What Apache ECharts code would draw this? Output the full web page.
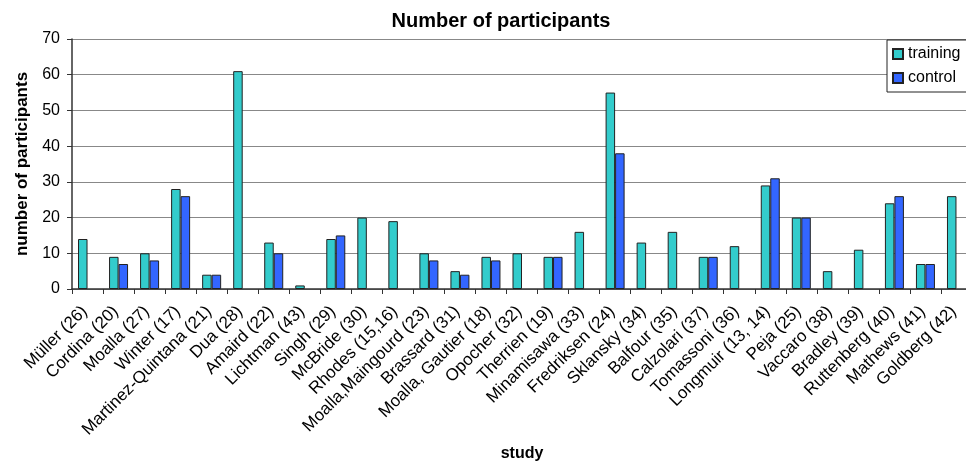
<!DOCTYPE html>
<html>
<head>
<meta charset="utf-8">
<script src="https://cdn.jsdelivr.net/npm/echarts@6/dist/echarts.min.js"></script>
<style>
  html, body { margin: 0; padding: 0; background: #fff; }
  #chart { width: 966px; height: 462px; }
</style>
</head>
<body>
<div id="chart"></div>
<script>
// Studies and group sizes (null = no control group reported)
const studies = [
  'Müller (26)', 'Cordina (20)', 'Moalla (27)', 'Winter (17)', 'Martinez-Quintana (21)',
  'Dua (28)', 'Amaird (22)', 'Lichtman (43)', 'Singh (29)', 'McBride (30)',
  'Rhodes (15,16)', 'Moalla,Maingourd (23)', 'Brassard (31)', 'Moalla, Gautier (18)',
  'Opocher (32)', 'Therrien (19)', 'Minamisawa (33)', 'Fredriksen (24)', 'Sklansky (34)',
  'Balfour (35)', 'Calzolari (37)', 'Tomassoni (36)', 'Longmuir (13, 14)', 'Peja (25)',
  'Vaccaro (38)', 'Bradley (39)', 'Ruttenberg (40)', 'Mathews (41)', 'Goldberg (42)'
];
const training = [14, 9, 10, 28, 4, 61, 13, 1, 14, 20, 19, 10, 5, 9, 10, 9, 16, 55, 13, 16, 9, 12, 29, 20, 5, 11, 24, 7, 26];
const control  = [null, 7, 8, 26, 4, null, 10, null, 15, null, null, 8, 4, 8, null, 9, null, 38, null, null, 9, null, 31, 20, null, null, 26, 7, null];
const yTicks = [0, 10, 20, 30, 40, 50, 60, 70];

const font = 'Liberation Sans, Arial, sans-serif';
const chart = echarts.init(document.getElementById('chart'), null, { renderer: 'canvas' });

chart.setOption({
  animation: false,
  backgroundColor: '#fff',
  title: {
    text: 'Number of participants',
    left: 496, top: 6, textAlign: 'center',
    textStyle: { fontFamily: font, fontSize: 20, fontWeight: 'bold', color: '#000' }
  },
  legend: {
    orient: 'vertical',
    left: 887, top: 40,
    padding: [6, 30, 6, 5],
    itemGap: 8,
    itemWidth: 10, itemHeight: 10,
    icon: 'rect',
    borderColor: '#222', borderWidth: 1,
    backgroundColor: '#fff',
    textStyle: { fontFamily: font, fontSize: 16, color: '#000' },
    data: ['training', 'control']
  },
  // the last category runs a few pixels past the right edge of the canvas
  grid: {
    left: 72, width: 900, top: 39, height: 250,
    containLabel: false, outerBoundsMode: 'none'
  },
  xAxis: {
    type: 'category',
    data: studies,
    name: 'study',
    nameLocation: 'middle',
    nameGap: 152,
    nameTextStyle: { fontFamily: font, fontSize: 16, fontWeight: 'bold', color: '#000' },
    axisLine: { lineStyle: { color: '#333', width: 1.5 } },
    axisTick: { show: true, alignWithLabel: false, length: 5, lineStyle: { color: '#333' } },
    axisLabel: {
      interval: 0, rotate: 45, margin: 17,
      padding: [0, 4, 0, 0],
      fontFamily: font, fontSize: 17, color: '#000'
    }
  },
  yAxis: {
    type: 'value',
    min: yTicks[0], max: yTicks[yTicks.length - 1], interval: 10,
    name: 'number of participants',
    nameLocation: 'middle',
    nameGap: 39,
    nameTextStyle: { fontFamily: font, fontSize: 17, fontWeight: 'bold', color: '#000' },
    axisLine: { show: true, lineStyle: { color: '#333', width: 1.5 } },
    axisTick: { show: true, length: 5, lineStyle: { color: '#333' } },
    axisLabel: { fontFamily: font, fontSize: 16, color: '#000', margin: 12 },
    splitLine: { lineStyle: { color: '#888', width: 1.2 } }
  },
  series: [
    {
      name: 'training', type: 'bar', data: training,
      barWidth: 9.5, barGap: '0%',
      itemStyle: { color: '#33CCCC', borderColor: '#222', borderWidth: 1 }
    },
    {
      name: 'control', type: 'bar', data: control,
      barWidth: 9.5, barGap: '0%',
      itemStyle: { color: '#3366FF', borderColor: '#222', borderWidth: 1 }
    }
  ]
});
</script>
</body>
</html>
